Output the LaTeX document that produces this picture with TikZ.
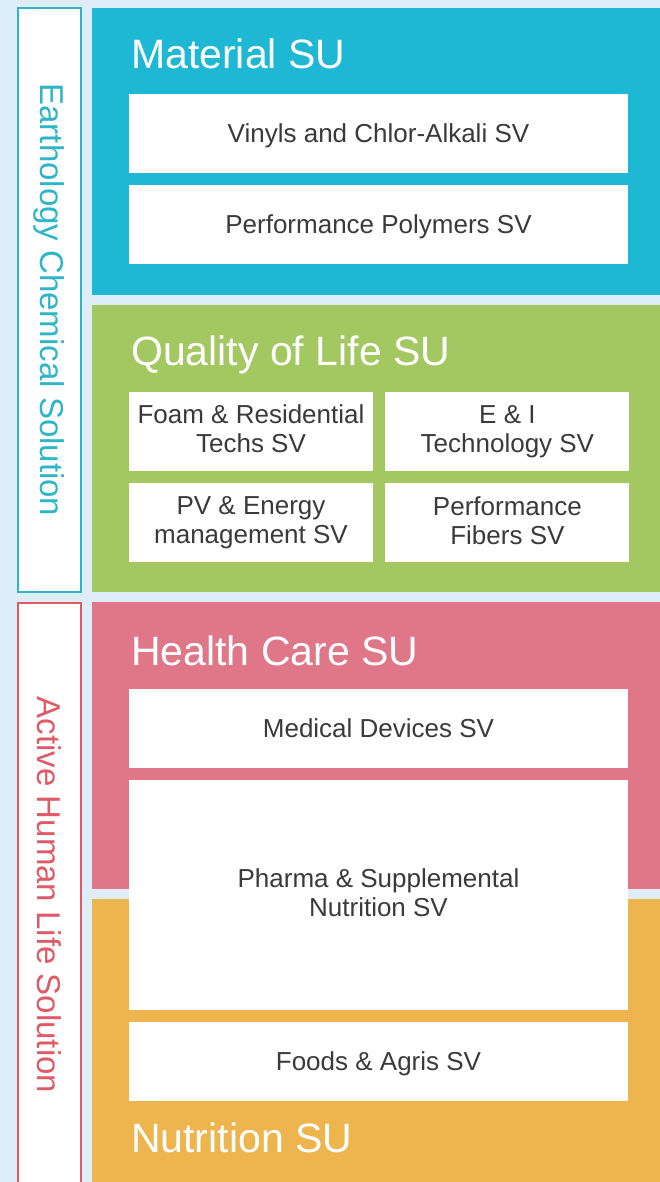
\documentclass[tikz,border=0pt]{standalone}
\usepackage{fontspec}
\setmainfont{Liberation Sans}
\usepackage{tikz}
\usetikzlibrary{positioning}
\usepackage{xcolor}
\definecolor{bgblue}{HTML}{DEEDF8}
\definecolor{matcyan}{HTML}{1EB8D5}
\definecolor{qolgreen}{HTML}{A3C862}
\definecolor{hcpink}{HTML}{DF7789}
\definecolor{nutorange}{HTML}{EEB44D}
\definecolor{sidecyan}{HTML}{2DB5C8}
\definecolor{sidered}{HTML}{E05A66}
\definecolor{boxtext}{HTML}{3A3A3A}
\newcommand{\svstrut}{\rule[-5.4pt]{0pt}{28.4pt}}

\begin{document}
\begin{tikzpicture}[x=1pt, y=-1pt,
  panel/.style={rectangle, inner sep=0, minimum width=568pt, minimum height=287pt},
  svbox/.style={rectangle, fill=white, inner sep=0, minimum height=79pt, align=center,
    text=boxtext, font=\fontsize{26}{29}\selectfont,
    execute at begin node=\svstrut, execute at end node=\svstrut},
  wide/.style={svbox, minimum width=499pt},
  half/.style={svbox, minimum width=244pt},
  sutitle/.style={anchor=west, inner sep=0, text=white, font=\fontsize{41}{45}\selectfont},
  sidebox/.style={rectangle, fill=white, line width=1.3pt, inner sep=0, minimum width=63pt},
  sidetext/.style={rotate=-90, inner sep=0, font=\fontsize{33}{36}\selectfont}]
  \useasboundingbox (0,0) rectangle (660,1182);
  \fill[bgblue] (0,0) rectangle (660,1182);

  % solution labels
  \node[sidebox, draw=sidecyan, minimum height=584pt] (earth) at (49.5,300) {};
  \node[sidebox, draw=sidered, minimum height=590pt] (active) at (49.5,898) {};
  \node[sidetext, text=sidecyan] at (earth.center) {Earthology Chemical Solution};
  \node[sidetext, text=sidered] at (49.5,895) {Active Human Life Solution};

  % SU panels
  \node[panel, fill=matcyan]   (mat) at (376,151.5) {};
  \node[panel, fill=qolgreen]  (qol) at (376,448.5) {};
  \node[panel, fill=hcpink]    (hc)  at (376,745.5) {};
  \node[panel, fill=nutorange, minimum height=291pt] (nut) at (376,1044.5) {};

  \node[sutitle] (mattitle) at (131,54)   {Material SU};
  \node[sutitle] (qoltitle) at (131,355)  {Quality of Life SU};
  \node[sutitle] (hctitle)  at (131,651)  {Health Care SU};
  \node[sutitle] (nuttitle) at (131,1138) {Nutrition SU};

  % SV boxes
  \node[wide] (vinyl) at (378.5,133.5) {Vinyls and Chlor-Alkali SV};
  \node[wide] (poly)  [below=12pt of vinyl] {Performance Polymers SV};

  \node[half] (foam)   at (251,431.5) {Foam \& Residential\\Techs SV};
  \node[half] (ei)     [right=12pt of foam] {E \& I\\Technology SV};
  \node[half] (pv)     [below=12pt of foam] {PV \& Energy\\management SV};
  \node[half] (fibers) [below=12pt of ei] {Performance\\Fibers SV};

  \node[wide] (med)    at (378.5,728.5) {Medical Devices SV};
  \node[wide, minimum height=230pt] (pharma) [below=12pt of med] {Pharma \& Supplemental\\Nutrition SV};
  \node[wide] (foods)  [below=11pt of pharma] {Foods \& Agris SV};
\end{tikzpicture}
\end{document}
